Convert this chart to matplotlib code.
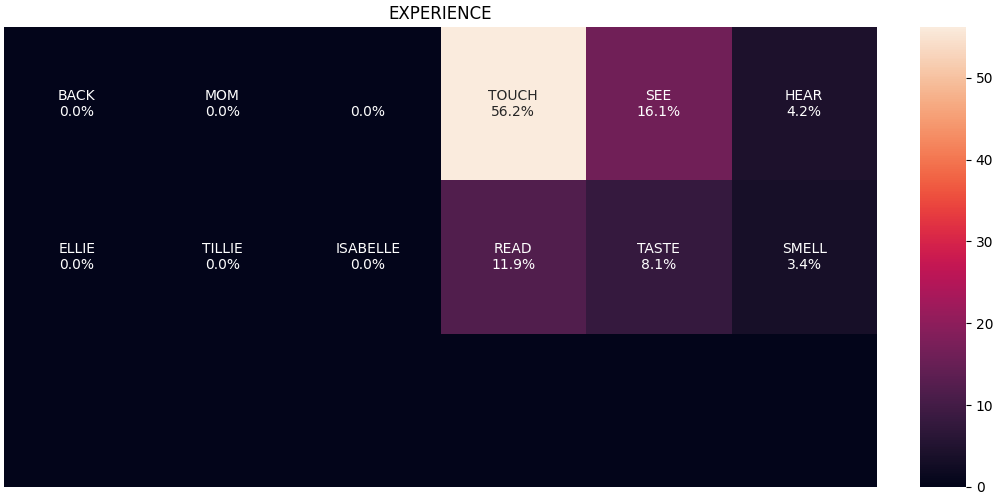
import numpy as np
import matplotlib
matplotlib.use("Agg")
import matplotlib.pyplot as plt
import seaborn as sns

row1_names = ["BACK", "MOM", "", "TOUCH", "SEE", "HEAR"]
row1_values = [0.0, 0.0, 0.0, 56.2, 16.1, 4.2]
row2_names = ["ELLIE", "TILLIE", "ISABELLE", "READ", "TASTE", "SMELL"]
row2_values = [0.0, 0.0, 0.0, 11.9, 8.1, 3.4]
row3_values = [0.0, 0.0, 0.0, 0.0, 0.0, 0.0]

data = np.array([row1_values, row2_values, row3_values])
labels = np.array([
    [f"{n}\n{v:.1f}%" for n, v in zip(row1_names, row1_values)],
    [f"{n}\n{v:.1f}%" for n, v in zip(row2_names, row2_values)],
    ["" for _ in row3_values],
])

fig = plt.figure(figsize=(10, 5), dpi=100)
ax = fig.add_axes([0.004, 0.026, 0.873, 0.920])
cax = fig.add_axes([0.920, 0.026, 0.046, 0.920])
sns.heatmap(data, annot=labels, fmt="", cmap="rocket", xticklabels=False,
            yticklabels=False, ax=ax, cbar_ax=cax)
ax.set_title("EXPERIENCE")
plt.savefig("out.png")
